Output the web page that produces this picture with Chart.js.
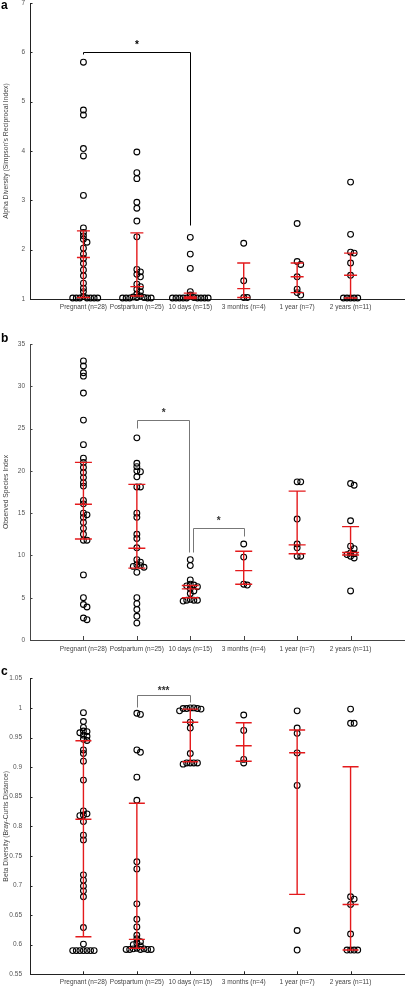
<!DOCTYPE html>
<html><head><meta charset="utf-8">
<script src="https://cdn.jsdelivr.net/npm/chart.js@4"></script>
<style>
html,body{margin:0;padding:0;background:#fff;overflow:hidden}
body{width:408px;height:987px;position:relative}
canvas{position:absolute;left:0}
.lbl{position:absolute;left:1px;font:bold 12px "Liberation Sans",Arial,sans-serif;line-height:12px;color:#000;z-index:5}
</style></head><body>
<canvas id="ca" width="408" height="338" style="top:-20px"></canvas>
<canvas id="cb" width="408" height="340" style="top:318px"></canvas>
<canvas id="cc" width="408" height="329" style="top:658px"></canvas>
<div class="lbl" style="top:-1px">a</div>
<div class="lbl" style="top:332px">b</div>
<div class="lbl" style="top:665px">c</div>
<script>
// ---------------- DATA ----------------
const categories = ['Pregnant (n=28)','Postpartum (n=25)','10 days (n=15)','3 months (n=4)','1 year (n=7)','2 years (n=11)'];

// Panel a: Alpha diversity (Simpson's reciprocal index)
const alphaPregnant   = [5.80,4.83,4.73,4.05,3.90,3.10,2.44,2.35,2.28,2.21,2.15,2.03,1.91,1.82,1.72,1.59,1.47,1.32,1.22,1.15,1.05,1.02,1.02,1.02,1.02,1.02,1.02,1.02];
const alphaPostpartum = [3.98,3.56,3.44,2.96,2.84,2.58,2.26,1.60,1.55,1.50,1.45,1.30,1.25,1.20,1.15,1.10,1.06,1.04,1.03,1.03,1.02,1.02,1.02,1.02,1.02];
const alpha10days     = [2.25,1.91,1.62,1.15,1.08,1.03,1.02,1.02,1.02,1.02,1.02,1.02,1.02,1.02,1.02];
const alpha3months    = [2.13,1.37,1.03,1.03];
const alpha1year      = [2.53,1.76,1.70,1.45,1.20,1.13,1.08];
const alpha2years     = [3.37,2.31,1.95,1.93,1.73,1.48,1.02,1.02,1.02,1.02,1.02];
const alphaQ1     = [1.03,1.06,1.01,1.03,1.13,1.02];
const alphaMedian = [1.84,1.25,1.04,1.21,1.45,1.48];
const alphaQ3     = [2.38,2.34,1.12,1.73,1.73,1.93];
const alphaTicks  = [1,2,3,4,5,6,7];
const alphaBracket = [[1,5.97],[1,6.0],[3,6.0],[3,2.5]];
const alphaStars   = [[2,6.19,'*']];

// Panel b: Observed species index
const obsPregnant   = [33.0,32.4,31.6,31.2,29.2,26.0,23.1,21.5,21.0,20.4,19.8,19.2,18.6,18.2,16.5,16.1,15.0,14.8,14.5,13.9,13.2,12.5,11.8,11.8,7.7,5.0,4.2,3.9,2.6,2.4];
const obsPostpartum = [23.9,20.9,20.5,20.0,19.9,19.3,18.1,18.1,15.0,14.5,12.5,12.0,10.9,9.5,9.2,8.9,8.8,8.7,8.6,8.0,5.0,4.3,3.6,2.8,2.0];
const obs10days     = [9.5,8.8,7.1,6.6,6.5,6.4,6.3,6.1,5.8,5.5,4.8,4.7,4.7,4.7,4.6];
const obs3months    = [11.35,9.8,6.6,6.5];
const obs1year      = [18.7,18.7,14.3,11.35,10.9,9.9,9.9];
const obs2years     = [18.5,18.3,14.1,11.1,10.8,10.3,10.2,10.1,9.9,9.7,5.8];
const obsQ1     = [11.95,8.5,5.0,6.6,10.2,10.05];
const obsMedian = [16.05,10.85,6.05,8.2,11.25,10.35];
const obsQ3     = [21.0,18.4,6.45,10.5,17.6,13.4];
const obsTicks  = [0,5,10,15,20,25,30,35];
const obsBracket1 = [[2,25.05],[2,26.0],[2.97,26.0],[2.97,10.45]];
const obsBracket2 = [[3.06,10.45],[3.06,13.3],[4,13.3],[4,12.3]];
const obsStars    = [[2.5,27.0,'*'],[3.53,14.3,'*']];

// Panel c: Beta diversity (Bray-Curtis distance)
const betaPregnant   = [0.992,0.977,0.967,0.961,0.960,0.958,0.954,0.952,0.947,0.945,0.929,0.923,0.910,0.878,0.826,0.821,0.819,0.818,0.808,0.785,0.777,0.718,0.709,0.699,0.691,0.681,0.629,0.601,0.590,0.590,0.590,0.590,0.590,0.590,0.590];
const betaPostpartum = [0.991,0.989,0.929,0.925,0.883,0.844,0.740,0.728,0.669,0.643,0.630,0.616,0.610,0.605,0.603,0.600,0.598,0.594,0.593,0.593,0.592,0.592,0.592,0.592,0.592];
const beta10days     = [1.000,1.000,0.999,0.999,0.999,0.998,0.995,0.976,0.966,0.923,0.907,0.907,0.907,0.907,0.905];
const beta3months    = [0.988,0.962,0.913,0.907];
const beta1year      = [0.995,0.966,0.957,0.924,0.869,0.624,0.591];
const beta2years     = [0.998,0.974,0.974,0.681,0.677,0.668,0.618,0.591,0.591,0.591,0.591];
const betaQ1     = [0.6135,0.594,0.909,0.910,0.685,0.591];
const betaMedian = [0.812,0.609,0.9757,0.936,0.9243,0.668];
const betaQ3     = [0.9446,0.839,0.998,0.975,0.9627,0.9007];
const betaTicks  = [0.55,0.6,0.65,0.7,0.75,0.8,0.85,0.9,0.95,1,1.05];
const betaBracket = [[2,1.002],[2,1.0218],[3,1.0218],[3,1.0105]];
const betaStars   = [[2.5,1.031,'***']];

// ---------------- DRAWING ----------------
const FONT = '"Liberation Sans", Arial, Helvetica, sans-serif';
const PLOT_W = 377, PLOT_H = 296, X_SPAN = 7;
const RED = '#e41a1c';

// deterministic beeswarm: spread points sideways only where they would overlap
function swarm(values, center, yMin, yMax) {
  const pyu = PLOT_H / (yMax - yMin), pxu = PLOT_W / X_SPAN;
  const step = 3.6, minD = 3.3;
  const order = values.map((v, i) => i).sort((a, b) => values[b] - values[a]);
  const placed = [], out = new Array(values.length);
  for (const i of order) {
    const py = values[i] * pyu;
    let off = 0;
    for (let n = 0; n < 60; n++) {
      off = n === 0 ? 0 : (n % 2 ? 1 : -1) * Math.ceil(n / 2) * step;
      if (placed.every(p => Math.hypot(p.x - off, p.y - py) >= minD)) break;
    }
    placed.push({x: off, y: py});
    out[i] = {x: center + off / pxu, y: values[i]};
  }
  return out;
}

function makePanel(id, cfg) {
  const points = [];
  cfg.groups.forEach((g, i) => points.push(...swarm(g, i + 1, cfg.yMin, cfg.yMax)));

  const extras = {
    id: 'extras_' + id,
    afterDatasetsDraw(chart) {
      const {ctx} = chart, xs = chart.scales.x, ys = chart.scales.y;
      ctx.save();
      // inner tick marks
      ctx.strokeStyle = cfg.axisColor; ctx.lineWidth = 1;
      cfg.yTicks.forEach(v => {
        const y = Math.round(ys.getPixelForValue(v)) + 0.5;
        ctx.beginPath(); ctx.moveTo(xs.left, y); ctx.lineTo(xs.left + 2.5, y); ctx.stroke();
      });
      if (cfg.xTick) categories.forEach((c, i) => {
        const x = Math.round(xs.getPixelForValue(i + 1)) + 0.5;
        ctx.beginPath(); ctx.moveTo(x, ys.bottom); ctx.lineTo(x, ys.bottom - cfg.xTick); ctx.stroke();
      });
      // significance brackets
      ctx.strokeStyle = cfg.bracketColor; ctx.lineWidth = 1;
      cfg.brackets.forEach(b => {
        ctx.beginPath();
        b.forEach(([vx, vy], k) => {
          const x = Math.round(xs.getPixelForValue(vx)) + 0.5, y = Math.round(ys.getPixelForValue(vy)) + 0.5;
          k ? ctx.lineTo(x, y) : ctx.moveTo(x, y);
        });
        ctx.stroke();
      });
      ctx.fillStyle = cfg.bracketColor === '#000' ? '#000' : '#333';
      ctx.font = 'bold 10px ' + FONT; ctx.textAlign = 'center'; ctx.textBaseline = 'middle';
      cfg.stars.forEach(([vx, vy, t]) => ctx.fillText(t, xs.getPixelForValue(vx), ys.getPixelForValue(vy) + 2));
      // median and interquartile range bars
      ctx.strokeStyle = RED; ctx.lineWidth = 1.4;
      for (let i = 0; i < categories.length; i++) {
        const x = xs.getPixelForValue(i + 1);
        const y1 = ys.getPixelForValue(cfg.q1[i]), ym = ys.getPixelForValue(cfg.med[i]), y3 = ys.getPixelForValue(cfg.q3[i]);
        ctx.beginPath();
        ctx.moveTo(x, y1); ctx.lineTo(x, y3);
        [y1, ym, y3].forEach(y => { ctx.moveTo(x - cfg.cap, y); ctx.lineTo(x + cfg.cap, y); });
        ctx.stroke();
      }
      ctx.restore();
    }
  };

  return new Chart(document.getElementById(id), {
    type: 'scatter',
    data: {datasets: [{
      data: points,
      pointStyle: 'circle', pointRadius: 2.9, pointHoverRadius: 2.9,
      pointBorderWidth: 1.1, pointBorderColor: '#000', pointBackgroundColor: 'rgba(255,255,255,0)',
      clip: false
    }]},
    options: {
      responsive: false, animation: false, devicePixelRatio: 1, events: [],
      layout: {padding: {top: cfg.padTop, right: 1, left: 0, bottom: 0}},
      plugins: {legend: {display: false}, tooltip: {enabled: false}},
      scales: {
        x: {
          type: 'linear', min: 0, max: X_SPAN,
          grid: {display: false, drawTicks: false},
          border: {display: true, color: cfg.axisColor, width: 1},
          afterBuildTicks: s => { s.ticks = categories.map((c, i) => ({value: i + 1})); },
          ticks: {autoSkip: false, maxRotation: 0, minRotation: 0, padding: cfg.xPad, color: '#444',
                  font: {size: 6.5, family: FONT}, callback: v => categories[Math.round(v) - 1] || ''},
          afterFit: s => { s.height = cfg.xAxisH; }
        },
        y: {
          type: 'linear', min: cfg.yMin, max: cfg.yMax,
          grid: {display: false, drawTicks: false},
          border: {display: true, color: cfg.axisColor, width: 1},
          afterBuildTicks: s => { s.ticks = cfg.yTicks.map(v => ({value: v})); },
          ticks: {padding: cfg.yPad, color: '#555', font: {size: 6.5, family: FONT}, callback: v => String(+v.toFixed(2))},
          title: {display: true, text: cfg.title, color: '#444', font: {size: 6.8, family: FONT}, padding: {top: 2, bottom: 0}},
          afterFit: s => { s.width = 30; }
        }
      }
    },
    plugins: [extras]
  });
}

makePanel('ca', {
  groups: [alphaPregnant, alphaPostpartum, alpha10days, alpha3months, alpha1year, alpha2years],
  q1: alphaQ1, med: alphaMedian, q3: alphaQ3, yMin: 1, yMax: 7, yTicks: alphaTicks,
  title: "Alpha Diversity (Simpson's Reciprocal Index)",
  brackets: [alphaBracket], stars: alphaStars, bracketColor: '#000', axisColor: '#222',
  padTop: 23, xAxisH: 19, xPad: 4, yPad: 5, xTick: 0, cap: 6.5
});
makePanel('cb', {
  groups: [obsPregnant, obsPostpartum, obs10days, obs3months, obs1year, obs2years],
  q1: obsQ1, med: obsMedian, q3: obsQ3, yMin: 0, yMax: 35, yTicks: obsTicks,
  title: 'Observed Species Index',
  brackets: [obsBracket1, obsBracket2], stars: obsStars, bracketColor: '#777', axisColor: '#444',
  padTop: 26, xAxisH: 18, xPad: 5, yPad: 5, xTick: 4, cap: 8.5
});
makePanel('cc', {
  groups: [betaPregnant, betaPostpartum, beta10days, beta3months, beta1year, beta2years],
  q1: betaQ1, med: betaMedian, q3: betaQ3, yMin: 0.55, yMax: 1.05, yTicks: betaTicks,
  title: 'Beta Diversity (Bray-Curtis Distance)',
  brackets: [betaBracket], stars: betaStars, bracketColor: '#777', axisColor: '#222',
  padTop: 20.3, xAxisH: 12.7, xPad: 3.8, yPad: 8, xTick: 3, cap: 8
});
</script>
</body></html>
